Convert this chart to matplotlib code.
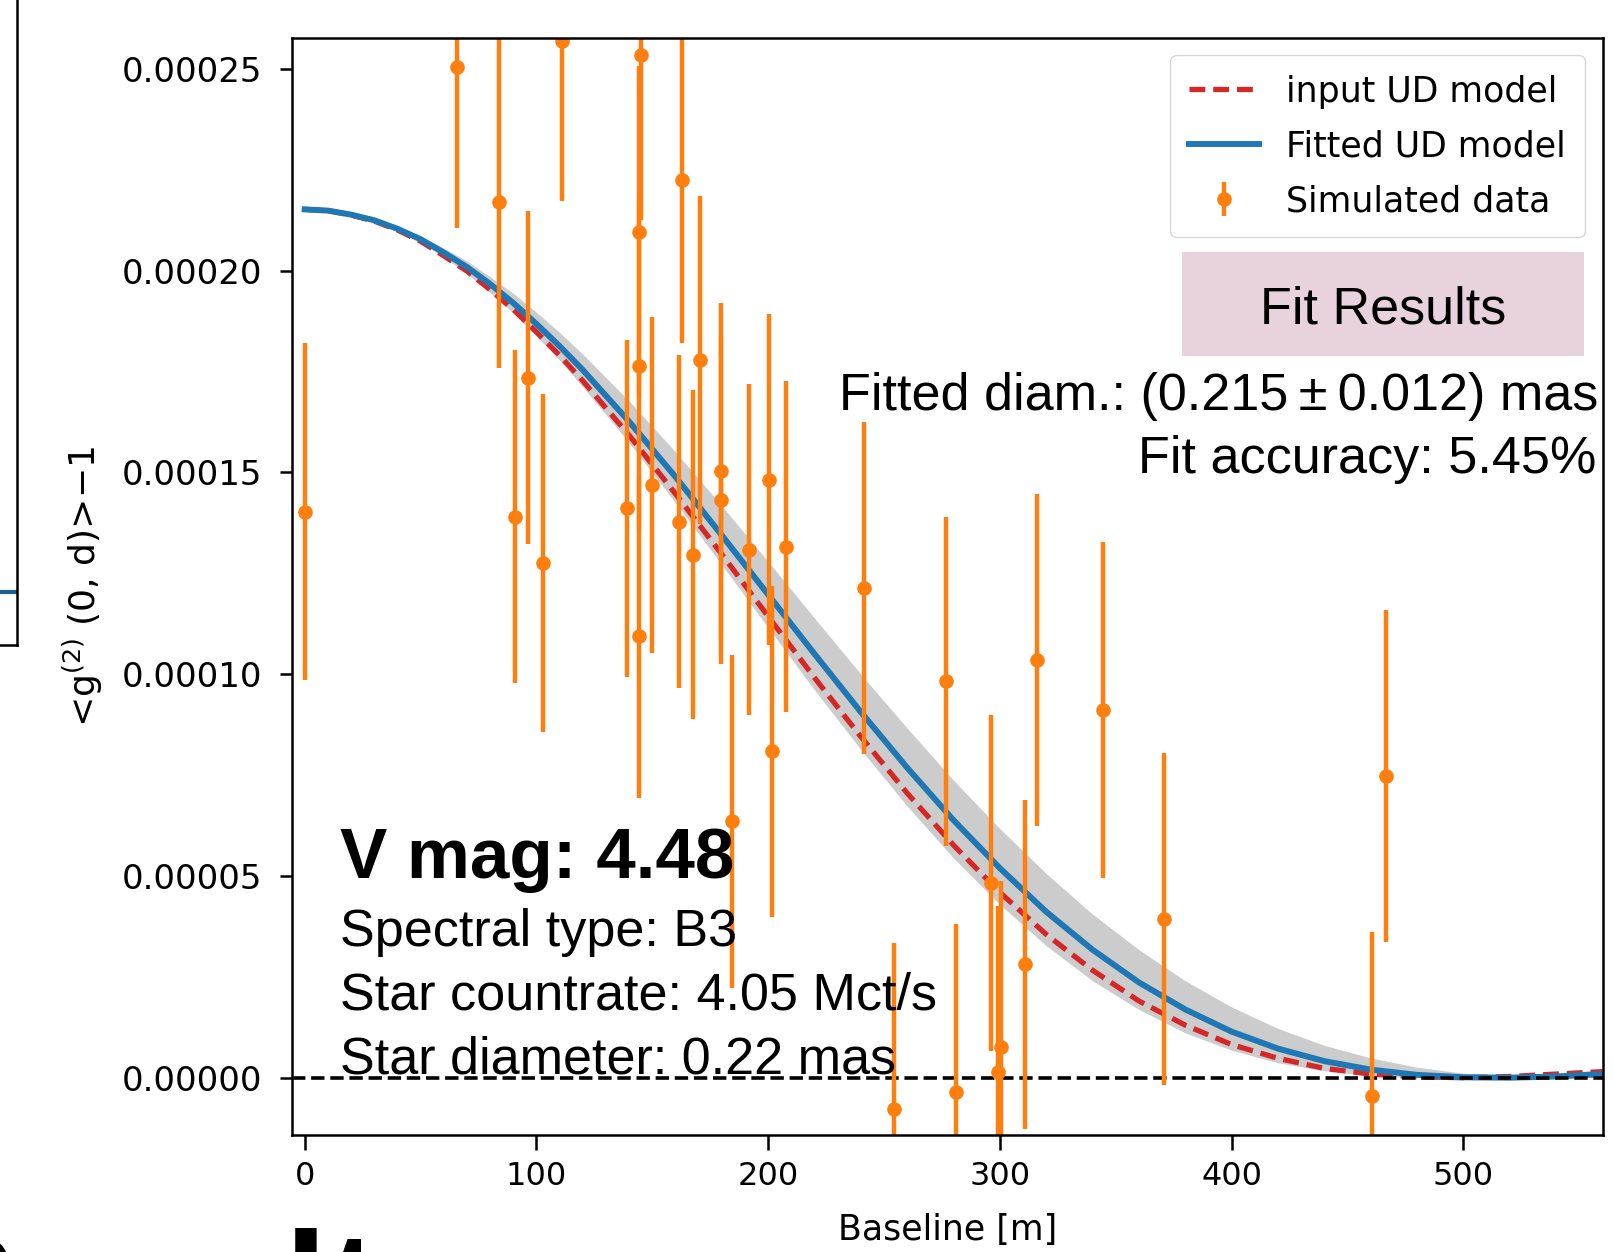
import matplotlib.pyplot as plt
from matplotlib.patches import Rectangle
from matplotlib.ticker import FormatStrFormatter
import numpy as np

# simulated g2 measurements: baseline [m], signal and error in units of 1e-5
baseline = [0.0, 65.7, 83.9, 90.6, 96.3, 103.0, 111.0, 139.0, 145.2, 144.3,
            144.3, 144.3, 150.0, 161.6, 163.0, 167.4, 170.5, 179.8, 179.8, 184.2,
            191.8, 200.2, 201.5, 207.8, 241.5, 254.4, 276.6, 281.0, 296.1, 299.2,
            300.6, 310.8, 316.1, 344.5, 370.7, 460.4, 466.6]
g2 = [14.03, 25.05, 21.71, 13.90, 17.35, 12.76, 25.70, 14.11, 25.35, 20.97,
      17.65, 10.94, 14.69, 13.78, 22.24, 12.96, 17.78, 15.03, 14.31, 6.35,
      13.09, 14.82, 8.09, 13.16, 12.14, -0.77, 9.82, -0.36, 4.82, 0.15,
      0.77, 2.81, 10.36, 9.11, 3.93, -0.46, 7.47]
g2_err = [4.18, 4.00, 4.11, 4.13, 4.13, 4.18, 3.98, 4.18, 4.10, 4.10,
          4.10, 4.00, 4.16, 4.13, 4.03, 4.08, 4.06, 4.16, 4.06, 4.13,
          4.10, 4.10, 4.10, 4.10, 4.11, 4.11, 4.08, 4.17, 4.16, 4.10,
          4.10, 4.08, 4.11, 4.16, 4.11, 4.08, 4.11]

# uniform disk model curves (units of 1e-5)
model_baseline = [0, 10, 20, 30, 40, 50, 60, 70, 80, 90, 100, 110, 120, 140, 160,
                  180, 200, 220, 240, 260, 280, 300, 320, 340, 360, 380, 400, 420,
                  440, 460, 480, 500, 520, 540, 560]
input_ud = [21.52, 21.49, 21.38, 21.23, 21.01, 20.73, 20.37, 19.99, 19.53, 19.04,
            18.48, 17.90, 17.27, 15.92, 14.47, 12.97, 11.43, 9.91, 8.45, 7.05,
            5.76, 4.59, 3.55, 2.66, 1.90, 1.30, 0.82, 0.48, 0.23, 0.09,
            0.02, 0.00, 0.03, 0.09, 0.15]
fitted_ud = [21.52, 21.49, 21.39, 21.25, 21.04, 20.78, 20.45, 20.09, 19.67, 19.20,
             18.68, 18.13, 17.54, 16.26, 14.89, 13.44, 11.97, 10.50, 9.06, 7.68,
             6.38, 5.19, 4.11, 3.17, 2.36, 1.69, 1.14, 0.72, 0.41, 0.20,
             0.07, 0.01, 0.00, 0.03, 0.09]
fit_band_low = [21.52, 21.49, 21.37, 21.22, 20.98, 20.70, 20.33, 19.93, 19.46, 18.95,
                18.38, 17.78, 17.12, 15.74, 14.25, 12.71, 11.15, 9.61, 8.13, 6.73,
                5.44, 4.29, 3.27, 2.40, 1.69, 1.11, 0.68, 0.37, 0.17, 0.05,
                0.00, 0.01, 0.05, 0.12, 0.19]
fit_band_high = [21.52, 21.49, 21.40, 21.28, 21.09, 20.86, 20.56, 20.24, 19.85, 19.44,
                 18.97, 18.47, 17.93, 16.77, 15.51, 14.17, 12.79, 11.39, 10.00, 8.66,
                 7.37, 6.17, 5.06, 4.05, 3.17, 2.40, 1.75, 1.22, 0.80, 0.49,
                 0.26, 0.11, 0.03, 0.00, 0.01]

star_info = ["Spectral type: B3", "Star countrate: 4.05 Mct/s", "Star diameter: 0.22 mas"]
fit_info = ["Fitted diam.: (0.215\u2009\u00b1\u20090.012) mas", "Fit accuracy: 5.45%"]

scale = 1e-5
slide_font = ["Liberation Sans", "DejaVu Sans"]

fig = plt.figure(figsize=(16.14, 12.52), dpi=100)

# edge of the neighbouring plot on the slide
ax_prev = fig.add_axes([-0.5, 0.4848, 0.5108, 0.6])
ax_prev.axhline(0.07, color="#1f5f8f", lw=3)
ax_prev.set_ylim(0, 1)
ax_prev.set_xticks([])
ax_prev.set_yticks([])
for sp in ax_prev.spines.values():
    sp.set_linewidth(1.8)

ax = fig.add_axes([0.1811, 0.0932, 0.8118, 0.8764])

mb = np.array(model_baseline)
ax.fill_between(mb, np.array(fit_band_low) * scale, np.array(fit_band_high) * scale,
                color="grey", alpha=0.4, lw=0)
red, = ax.plot(mb, np.array(input_ud) * scale, color="#d62728", lw=3.8,
               ls=(0, (3.0, 1.5)), label="input UD model")
blue, = ax.plot(mb, np.array(fitted_ud) * scale, color="#1f77b4", lw=4.3,
                label="Fitted UD model")
ax.axhline(0, color="k", ls="--", lw=2.6)
eb = ax.errorbar(baseline, np.array(g2) * scale, yerr=np.array(g2_err) * scale,
                 fmt="o", color="#ff7f0e", ms=9.5, elinewidth=3.2,
                 label="Simulated data")

ax.set_xlim(-5.35, 560)
ax.set_ylim(-1.428e-5, 25.766e-5)
ax.set_xticks([0, 100, 200, 300, 400, 500])
ax.set_yticks([0, 5e-5, 10e-5, 15e-5, 20e-5, 25e-5])
ax.yaxis.set_major_formatter(FormatStrFormatter("%.5f"))
ax.tick_params(axis="y", labelsize=24.5, length=8.5, width=1.8, pad=13)
ax.tick_params(axis="x", labelsize=23, length=10.5, width=1.8, pad=8)
for sp in ax.spines.values():
    sp.set_linewidth(1.8)

ax.set_xlabel("Baseline [m]", fontsize=25, labelpad=15)
ax.set_ylabel(r"<g$^{(2)}$ (0, d)>$-$1", fontsize=26, labelpad=12.5)

ax.legend([red, blue, eb], ["input UD model", "Fitted UD model", "Simulated data"],
          loc="upper right", fontsize=25, labelspacing=0.6, borderpad=0.55)

# slide annotations
fig.patches.append(Rectangle((1181.7 / 1614, 1 - 356 / 1252), 402 / 1614, 104 / 1252,
                             transform=fig.transFigure, facecolor="#e8d2de",
                             edgecolor="none", zorder=5))
fig.text(0.8571, 0.7418, "Fit Results", ha="center", va="baseline",
         fontsize=37.5, family=slide_font, zorder=6)
fig.text(0.9904, 0.6722, fit_info[0], ha="right", va="baseline",
         fontsize=37.5, family=slide_font)
fig.text(0.9890, 0.6220, fit_info[1], ha="right", va="baseline",
         fontsize=37.5, family=slide_font)

fig.text(0.2107, 0.2987, "V mag: 4.48", ha="left", va="baseline",
         fontsize=51, fontweight="bold", family=slide_font)
for i, line in enumerate(star_info):
    fig.text(0.2107, 0.2443 - i * 0.0508, line, ha="left", va="baseline",
             fontsize=37.5, family=slide_font)

# slide title below, mostly cut off
fig.text(-0.059, -0.071, "Results", ha="left", va="baseline",
         fontsize=112, fontweight="bold", family=slide_font)

fig.savefig("out.png", dpi=100)
